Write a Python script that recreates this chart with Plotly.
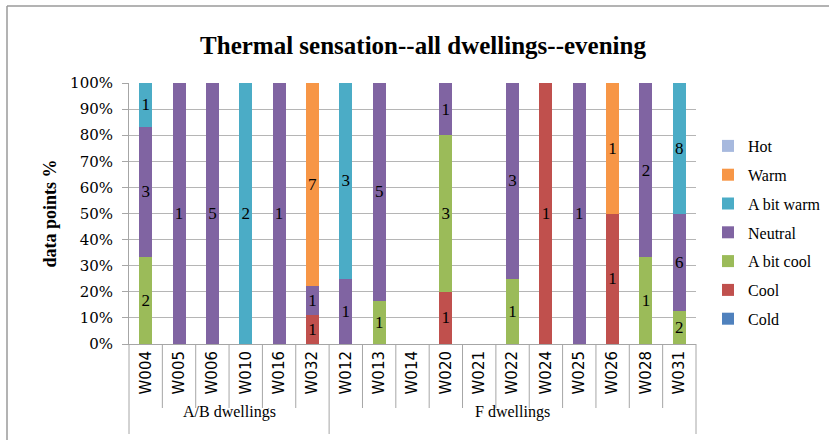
import plotly.graph_objects as go

dwellings = ["W004", "W005", "W006", "W010", "W016", "W032",
             "W012", "W013", "W014", "W020", "W021", "W022", "W024",
             "W025", "W026", "W028", "W031"]
groups = ["A/B dwellings", "F dwellings"]
group_sizes = [6, 11]

cold       = [0, 0, 0, 0, 0, 0, 0, 0, 0, 0, 0, 0, 0, 0, 0, 0, 0]
cool       = [0, 0, 0, 0, 0, 1, 0, 0, 0, 1, 0, 0, 1, 0, 1, 0, 0]
a_bit_cool = [2, 0, 0, 0, 0, 0, 0, 1, 0, 3, 0, 1, 0, 0, 0, 1, 2]
neutral    = [3, 1, 5, 0, 1, 1, 1, 5, 0, 1, 0, 3, 0, 1, 0, 2, 6]
a_bit_warm = [1, 0, 0, 2, 0, 0, 3, 0, 0, 0, 0, 0, 0, 0, 0, 0, 8]
warm       = [0, 0, 0, 0, 0, 7, 0, 0, 0, 0, 0, 0, 0, 0, 1, 0, 0]
hot        = [0, 0, 0, 0, 0, 0, 0, 0, 0, 0, 0, 0, 0, 0, 0, 0, 0]

series = [
    ("Cold", cold, "#4F81BD"),
    ("Cool", cool, "#C0504D"),
    ("A bit cool", a_bit_cool, "#9BBB59"),
    ("Neutral", neutral, "#8064A2"),
    ("A bit warm", a_bit_warm, "#4BACC6"),
    ("Warm", warm, "#F79646"),
    ("Hot", hot, "#A7B9DE"),
]

xs = list(range(len(dwellings)))
fig = go.Figure()
for i, (name, vals, col) in enumerate(series):
    fig.add_trace(go.Bar(
        x=xs,
        y=[v if v else None for v in vals],
        text=[str(v) if v else "" for v in vals],
        name=name,
        legendgroup=name,
        legendrank=len(series) - i,
        marker=dict(color=col, line=dict(width=0)),
        width=0.39,
        textposition="inside",
        insidetextanchor="middle",
        constraintext="none",
        textangle=0,
        insidetextfont=dict(family="Liberation Serif", size=17, color="black"),
        hoverinfo="skip",
    ))

W, H = 829, 440
L, R, T, B = 129, 696, 83, 344
pw, ph = R - L, B - T

def px_x(p):
    return (p - L) / pw

def px_y(p):
    return (B - p) / ph

shapes = []
bounds = []
start = 0
for s in group_sizes:
    start += s
    bounds.append(start)
for i in range(1, len(dwellings)):
    deep = i in bounds
    shapes.append(dict(type="line", xref="x", yref="paper",
                       x0=i - 0.5, x1=i - 0.5, y0=0,
                       y1=px_y(434) if deep else px_y(408),
                       line=dict(color="#A6A6A6", width=1)))
for xp in (0, 1):
    shapes.append(dict(type="line", xref="paper", yref="paper",
                       x0=xp, x1=xp, y0=0, y1=px_y(434),
                       line=dict(color="#A6A6A6", width=1)))
shapes.append(dict(type="line", xref="paper", yref="paper",
                   x0=px_x(7), x1=px_x(829), y0=px_y(6), y1=px_y(6),
                   line=dict(color="#9A9A9A", width=1.5)))
shapes.append(dict(type="line", xref="paper", yref="paper",
                   x0=px_x(7), x1=px_x(7), y0=px_y(6), y1=px_y(440),
                   line=dict(color="#9A9A9A", width=1.5)))

annotations = []
start = 0
for g, s in zip(groups, group_sizes):
    annotations.append(dict(x=start + (s - 1) / 2, y=px_y(423), xref="x", yref="paper",
                            text=g, showarrow=False,
                            font=dict(family="Liberation Serif", size=16, color="black")))
    start += s

fig.update_layout(
    width=W, height=H,
    margin=dict(l=L, r=W - R, t=T, b=H - B, pad=0, autoexpand=False),
    paper_bgcolor="white", plot_bgcolor="white",
    barmode="stack", barnorm="percent",
    title=dict(text="<b>Thermal sensation--all dwellings--evening</b>",
               x=px_x(423), xref="paper", xanchor="center",
               y=1 - 45 / H, yanchor="middle",
               font=dict(family="Liberation Serif", size=25, color="black")),
    xaxis=dict(range=[-0.5, len(dwellings) - 0.5], tickvals=xs, ticktext=dwellings,
               tickangle=-90, ticks="", showgrid=False, zeroline=False,
               showline=True, linecolor="#A6A6A6", linewidth=1,
               tickfont=dict(family="DejaVu Sans", size=15, color="black")),
    yaxis=dict(range=[0, 100], dtick=10, ticksuffix="%", ticks="outside",
               ticklen=6, tickcolor="#A6A6A6", ticklabelstandoff=6,
               showgrid=True, gridcolor="#B5B5B5", gridwidth=1,
               showline=True, linecolor="#A6A6A6", linewidth=1, zeroline=False,
               tickfont=dict(family="DejaVu Serif", size=15, color="black"),
               title=dict(text="<b>data points %</b>", standoff=8,
                          font=dict(family="Liberation Serif", size=18, color="black"))),
    legend=dict(x=px_x(708), xanchor="left", y=px_y(129), yanchor="top",
                traceorder="grouped", tracegroupgap=5,
                font=dict(family="Liberation Serif", size=16, color="black"),
                bgcolor="rgba(0,0,0,0)"),
    shapes=shapes,
    annotations=annotations,
)

fig.write_html(
    "out.html",
    config={"displayModeBar": False},
    post_script="document.body.style.margin='0';document.body.style.overflow='hidden';"
                "document.documentElement.style.overflow='hidden';",
)
